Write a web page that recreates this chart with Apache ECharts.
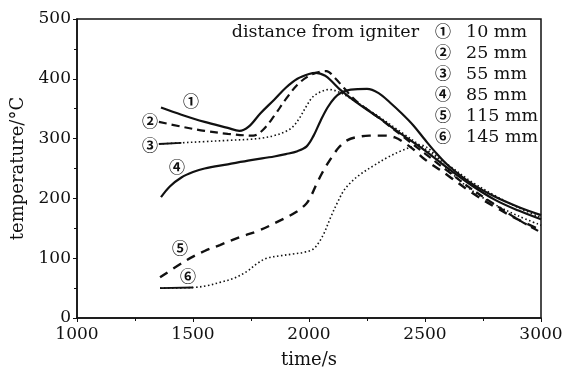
<!DOCTYPE html>
<html>
<head>
<meta charset="utf-8">
<script src="https://cdn.jsdelivr.net/npm/echarts@6/dist/echarts.min.js"></script>
<style>
    html, body { margin: 0; background: #fff; }
    #chart { width: 562px; height: 367px; }
</style>
</head>
<body>
<div id="chart"></div>
<script>
// curve tags and legend text
const marks = ['①', '②', '③', '④', '⑤', '⑥'];
const distances = ['10 mm', '25 mm', '55 mm', '85 mm', '115 mm', '145 mm'];
const heading = 'distance from igniter';

// time (s) / temperature (°C), one pair of arrays per thermocouple
const t1 = [1362, 1450, 1550, 1650, 1700, 1740, 1790, 1850, 1900, 1950, 2000, 2030, 2070, 2100, 2134, 2200, 2300, 2400, 2500, 2600, 2700, 2800, 2900, 3000];
const v1 = [352, 340, 328, 318, 313, 320, 342, 365, 385, 400, 408, 410, 405, 395, 382, 362, 335, 307, 280, 250, 222, 198, 180, 165];

const t2 = [1353, 1450, 1550, 1650, 1760, 1800, 1850, 1900, 1950, 2000, 2050, 2075, 2110, 2150, 2200, 2300, 2400, 2500, 2600, 2700, 2800, 2900, 3000];
const v2 = [328, 320, 313, 308, 305, 314, 338, 366, 390, 405, 412, 413, 402, 385, 364, 335, 305, 275, 245, 216, 190, 165, 143];

const t3 = [1353, 1450, 1550, 1650, 1750, 1800, 1850, 1900, 1931, 1960, 1990, 2017, 2050, 2085, 2134, 2200, 2300, 2400, 2500, 2600, 2700, 2800, 2900, 3000];
const v3 = [291, 293, 295, 297, 299, 301, 305, 312, 320, 335, 355, 370, 378, 382, 377, 362, 337, 310, 283, 256, 228, 205, 185, 168];

const t4 = [1362, 1400, 1450, 1500, 1550, 1650, 1750, 1850, 1900, 1950, 1990, 2020, 2050, 2080, 2110, 2140, 2180, 2250, 2300, 2350, 2400, 2450, 2500, 2550, 2600, 2700, 2800, 2900, 3000];
const v4 = [202, 220, 235, 244, 250, 257, 264, 270, 274, 279, 287, 305, 330, 352, 368, 377, 382, 383, 376, 360, 342, 322, 298, 275, 255, 225, 203, 186, 172];

const t5 = [1358, 1474, 1550, 1616, 1700, 1789, 1870, 1948, 1990, 2010, 2030, 2056, 2080, 2100, 2130, 2164, 2200, 2260, 2330, 2370, 2400, 2450, 2500, 2600, 2700, 2800, 2900, 3000];
const v5 = [68, 97, 112, 122, 135, 147, 162, 178, 192, 205, 222, 242, 258, 270, 286, 297, 302, 305, 305, 302, 296, 282, 265, 238, 210, 186, 165, 147];

const t6 = [1358, 1500, 1560, 1620, 1680, 1733, 1780, 1819, 1875, 1931, 1980, 2017, 2040, 2065, 2095, 2125, 2150, 2181, 2220, 2280, 2336, 2400, 2450, 2480, 2520, 2600, 2700, 2800, 2900, 3000];
const v6 = [50, 51, 54, 60, 67, 78, 92, 100, 104, 107, 110, 115, 125, 142, 170, 195, 213, 227, 240, 255, 268, 280, 287, 289, 282, 248, 214, 190, 171, 155];

// where the circled tags sit, in data units
const tagAt = [[1491, 363], [1315, 330], [1315, 290], [1431, 252], [1444, 118], [1478, 70]];

const times = [t1, t2, t3, t4, t5, t6];
const temps = [v1, v2, v3, v4, v5, v6];

const serif = "'DejaVu Serif', 'Liberation Serif', serif";
const markFont = "'Noto Sans CJK SC', 'DejaVu Sans', sans-serif";
const ink = '#111';

const lineStyles = [
    { type: 'solid', width: 2.2 },
    { type: [8, 5], width: 2.2 },
    { type: [1.5, 2.5], width: 1.6 },
    { type: 'solid', width: 2.2 },
    { type: [9, 7], width: 2.4 },
    { type: [1.5, 2.5], width: 1.6 }
];

let series = times.map(function (t, i) {
    return {
        type: 'line',
        smooth: 0.35,
        showSymbol: false,
        data: t.map(function (x, k) { return [x, temps[i][k]]; }),
        lineStyle: Object.assign({ color: ink }, lineStyles[i]),
        markPoint: {
            symbol: 'circle',
            symbolSize: 1,
            itemStyle: { color: 'rgba(0,0,0,0)' },
            label: {
                show: true, position: 'inside', color: ink,
                fontSize: 16, fontWeight: 'bold', fontFamily: markFont, formatter: marks[i]
            },
            data: [{ coord: tagAt[i] }]
        }
    };
});

// curves 3 and 6 start with a short solid stretch before the dots
[2, 5].forEach(function (i) {
    series.push({
        type: 'line',
        showSymbol: false,
        data: times[i].slice(0, 2).map(function (x, k) { return [x, temps[i][k]]; }),
        lineStyle: { color: ink, width: 1.8 }
    });
});

let legendText = [{
    type: 'text',
    right: 143,
    top: 23,
    style: { text: heading, font: '17.5px ' + serif, fill: ink }
}];
marks.forEach(function (m, i) {
    legendText.push({
        type: 'text',
        left: 435,
        top: 23 + i * 21,
        style: { text: m, font: 'bold 16px ' + markFont, fill: ink }
    });
    legendText.push({
        type: 'text',
        left: 466,
        top: 23 + i * 21,
        style: { text: distances[i], font: '17.5px ' + serif, fill: ink }
    });
});

let myChart = echarts.init(document.getElementById('chart'), null, { renderer: 'canvas' });
myChart.setOption({
    animation: false,
    backgroundColor: '#fff',
    grid: {
        left: 77, right: 21, top: 19, bottom: 49,
        outerBoundsMode: 'none',
        show: true, borderColor: ink, borderWidth: 1.5
    },
    xAxis: {
        type: 'value',
        min: 1000,
        max: 3000,
        interval: 500,
        name: 'time/s',
        nameLocation: 'middle',
        nameGap: 33,
        nameTextStyle: { fontFamily: serif, fontSize: 18, color: ink },
        axisLine: { lineStyle: { color: ink, width: 1.5 } },
        axisTick: { length: 4, lineStyle: { color: ink } },
        minorTick: { show: true, splitNumber: 2, length: 3, lineStyle: { color: ink } },
        splitLine: { show: false },
        axisLabel: {
            fontFamily: serif, fontSize: 17, color: ink, margin: 8,
            showMinLabel: true, showMaxLabel: true,
            formatter: function (v) { return String(v); }
        }
    },
    yAxis: {
        type: 'value',
        min: 0,
        max: 500,
        interval: 100,
        name: 'temperature/°C',
        nameLocation: 'middle',
        nameGap: 45,
        nameTextStyle: { fontFamily: serif, fontSize: 18, color: ink },
        axisLine: { show: true, lineStyle: { color: ink, width: 1.5 } },
        axisTick: { show: true, length: 4, lineStyle: { color: ink } },
        minorTick: { show: true, splitNumber: 2, length: 3, lineStyle: { color: ink } },
        splitLine: { show: false },
        axisLabel: { fontFamily: serif, fontSize: 17, color: ink, margin: 6 }
    },
    graphic: legendText,
    series: series
});
</script>
</body>
</html>
